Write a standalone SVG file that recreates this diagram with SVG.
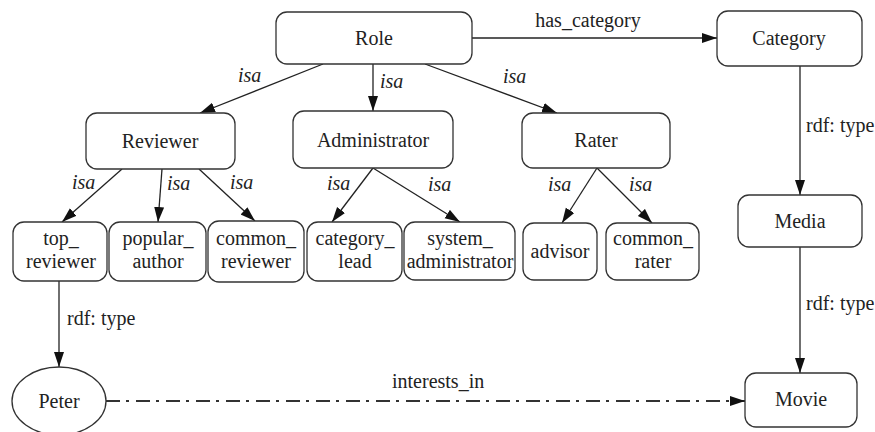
<svg xmlns="http://www.w3.org/2000/svg" width="875" height="432" viewBox="0 0 875 432">
<style>
  .box { fill: #fff; stroke: #333; stroke-width: 1.3; }
  .t { font-family: "Liberation Serif", "Times New Roman", serif; font-size: 20px; fill: #222; text-anchor: middle; }
  .lbl { font-family: "Liberation Serif", "Times New Roman", serif; font-size: 20px; fill: #222; }
  .isa { font-style: italic; }
  .edge { stroke: #222; stroke-width: 1.3; fill: none; marker-end: url(#arr); }
  .dd { stroke: #333; stroke-width: 2.2; fill: none; stroke-dasharray: 14 6 3 7; marker-end: url(#arr); }
</style>
<defs>
  <marker id="arr" markerUnits="userSpaceOnUse" markerWidth="16" markerHeight="11" refX="15" refY="5" orient="auto">
    <path d="M0,0 L15,5 L0,10 z" fill="#111"/>
  </marker>
</defs>
<rect width="875" height="432" fill="#fff"/>

<g id="connectors">
  <path class="edge" d="M323,64 L200,113"/>
  <path class="edge" d="M373,64 L373,111"/>
  <path class="edge" d="M425,64 L557,113"/>
  <path class="edge" d="M472,38 L717,38"/>
  <path class="edge" d="M800,66 L800,195"/>
  <path class="edge" d="M800,247 L800,373"/>
  <path class="edge" d="M122,169 L62,222"/>
  <path class="edge" d="M162,169 L158,222"/>
  <path class="edge" d="M199,169 L255,221"/>
  <path class="edge" d="M373,168 L332,222"/>
  <path class="edge" d="M373,168 L460,222"/>
  <path class="edge" d="M597,168 L562,223"/>
  <path class="edge" d="M597,168 L652,223"/>
  <path class="edge" d="M59,281 L59,367"/>
  <path class="dd" d="M106,401 L745,401"/>
  <text class="lbl isa" x="238" y="82">isa</text>
  <text class="lbl isa" x="380" y="88">isa</text>
  <text class="lbl isa" x="503" y="83">isa</text>
  <text class="lbl" x="588" y="27" text-anchor="middle">has_category</text>
  <text class="lbl" x="806" y="132">rdf: type</text>
  <text class="lbl" x="806" y="310">rdf: type</text>
  <text class="lbl" x="67" y="325">rdf: type</text>
  <text class="lbl isa" x="72" y="189">isa</text>
  <text class="lbl isa" x="167" y="190">isa</text>
  <text class="lbl isa" x="230" y="189">isa</text>
  <text class="lbl isa" x="327" y="190">isa</text>
  <text class="lbl isa" x="428" y="191">isa</text>
  <text class="lbl isa" x="548" y="191">isa</text>
  <text class="lbl isa" x="629" y="191">isa</text>
  <text class="lbl" x="392" y="388">interests_in</text>
</g>

<g id="Role"><rect class="box" x="276" y="12" width="196" height="52" rx="11"/><text class="t" x="374" y="45">Role</text></g>
<g id="Category"><rect class="box" x="717" y="11" width="145" height="55" rx="11"/><text class="t" x="789" y="45">Category</text></g>
<g id="Reviewer"><rect class="box" x="86" y="113" width="149" height="56" rx="11"/><text class="t" x="160" y="148">Reviewer</text></g>
<g id="Administrator"><rect class="box" x="293" y="111" width="160" height="57" rx="11"/><text class="t" x="373" y="147">Administrator</text></g>
<g id="Rater"><rect class="box" x="522" y="113" width="148" height="55" rx="11"/><text class="t" x="596" y="147">Rater</text></g>
<g id="top_reviewer"><rect class="box" x="13" y="222" width="94" height="59" rx="11"/><text class="t" x="61" y="245">top_</text><text class="t" x="61" y="268">reviewer</text></g>
<g id="popular_author"><rect class="box" x="109" y="222" width="97" height="59" rx="11"/><text class="t" x="158" y="245">popular_</text><text class="t" x="158" y="268">author</text></g>
<g id="common_reviewer"><rect class="box" x="208" y="221" width="96" height="61" rx="11"/><text class="t" x="256" y="245">common_</text><text class="t" x="256" y="268">reviewer</text></g>
<g id="category_lead"><rect class="box" x="307" y="222" width="95" height="59" rx="11"/><text class="t" x="355" y="245">category_</text><text class="t" x="355" y="268">lead</text></g>
<g id="system_administrator"><rect class="box" x="404" y="222" width="111" height="58" rx="11"/><text class="t" x="460" y="245">system_</text><text class="t" x="460" y="268">administrator</text></g>
<g id="advisor"><rect class="box" x="523" y="223" width="74" height="57" rx="11"/><text class="t" x="560" y="258">advisor</text></g>
<g id="common_rater"><rect class="box" x="606" y="223" width="93" height="57" rx="11"/><text class="t" x="653" y="245">common_</text><text class="t" x="653" y="268">rater</text></g>
<g id="Media"><rect class="box" x="738" y="195" width="124" height="52" rx="11"/><text class="t" x="800" y="228">Media</text></g>
<g id="Movie"><rect class="box" x="745" y="373" width="112" height="54" rx="11"/><text class="t" x="801" y="406">Movie</text></g>
<g id="Peter"><ellipse class="box" cx="59" cy="401" rx="47" ry="34"/><text class="t" x="59" y="408">Peter</text></g>
</svg>
